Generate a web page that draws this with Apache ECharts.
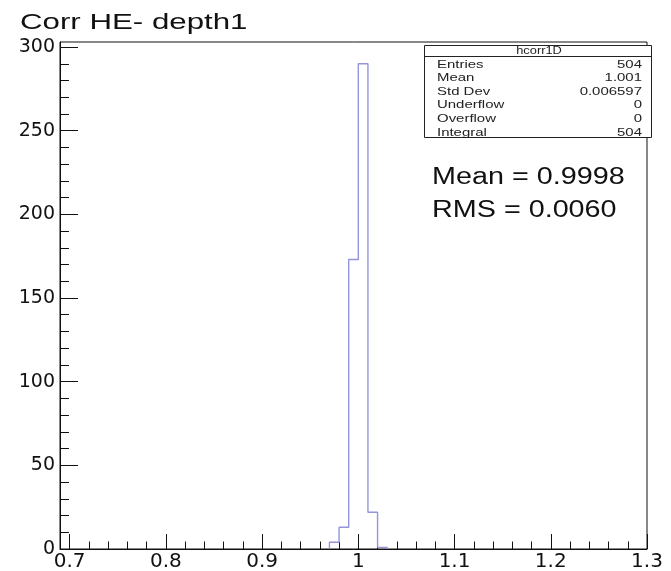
<!DOCTYPE html>
<html><head><meta charset="utf-8">
<script src="https://cdn.jsdelivr.net/npm/echarts@6/dist/echarts.min.js"></script>
<style>html,body{margin:0;padding:0;background:#fff}#c{width:671px;height:571px}</style>
</head><body><div id="c"></div>
<script>
// ---- data ----
const titleText = 'Corr HE- depth1';
const binEdges = [0.97, 0.98, 0.99, 1.00, 1.01, 1.02, 1.03];
const binCounts = [4, 13, 173, 290, 22, 1];
const xMajorTicks = [0.7, 0.8, 0.9, 1.0, 1.1, 1.2, 1.3];
const xMinorTicks = [0.72, 0.74, 0.76, 0.78, 0.82, 0.84, 0.86, 0.88, 0.92, 0.94, 0.96, 0.98,
                     1.02, 1.04, 1.06, 1.08, 1.12, 1.14, 1.16, 1.18, 1.22, 1.24, 1.26, 1.28];
const yMajorTicks = [0, 50, 100, 150, 200, 250, 300];
const yMinorTicks = [10, 20, 30, 40, 60, 70, 80, 90, 110, 120, 130, 140, 160, 170, 180, 190,
                     210, 220, 230, 240, 260, 270, 280, 290];
const statsTitle = 'hcorr1D';
const statsLabels = ['Entries', 'Mean', 'Std Dev', 'Underflow', 'Overflow', 'Integral'];
const statsValues = ['504', '1.001', '0.006597', '0', '0', '504'];
const fitLines = ['Mean = 0.9998', 'RMS = 0.0060'];

// ---- build histogram outline from bins ----
const outline = [[binEdges[0], 0]];
for (let i = 0; i < binCounts.length; i++) {
  outline.push([binEdges[i], binCounts[i]]);
  outline.push([binEdges[i + 1], binCounts[i]]);
}
outline.push([binEdges[binEdges.length - 1], 0]);

const AX = '#111';
const labelFont = 'DejaVu Sans';

const graphics = [
  { type: 'text', x: 20, y: 23, scaleX: 1.42, z: 100,
    style: { text: titleText, font: '22px "Liberation Sans"', fill: '#111', textVerticalAlign: 'middle' } },
  { type: 'rect', z: 100, shape: { x: 424.5, y: 45.5, width: 227, height: 92 },
    style: { fill: '#fff', stroke: '#222', lineWidth: 1 } },
  { type: 'line', z: 101, shape: { x1: 424.5, y1: 56.5, x2: 651.5, y2: 56.5 },
    style: { stroke: '#222', lineWidth: 1 } },
  { type: 'text', z: 102, x: 539, y: 51, scaleX: 1.28,
    style: { text: statsTitle, font: '10px "Liberation Sans"', fill: '#222', textAlign: 'center', textVerticalAlign: 'middle' } }
];
statsLabels.forEach((lab, i) => {
  const yy = 64.5 + i * 13.6;
  graphics.push({ type: 'text', z: 102, x: 437, y: yy, scaleX: 1.3,
    style: { text: lab, font: '11.5px "Liberation Sans"', fill: '#222', textAlign: 'left', textVerticalAlign: 'middle' } });
  graphics.push({ type: 'text', z: 102, x: 642, y: yy, scaleX: 1.3,
    style: { text: statsValues[i], font: '11.5px "Liberation Sans"', fill: '#222', textAlign: 'right', textVerticalAlign: 'middle' } });
});
fitLines.forEach((t, i) => {
  graphics.push({ type: 'text', z: 102, x: 432, y: 178 + i * 33, scaleX: 1.25,
    style: { text: t, font: '23px "Liberation Sans"', fill: '#111', textAlign: 'left', textVerticalAlign: 'middle' } });
});

const chart = echarts.init(document.getElementById('c'), null, { renderer: 'canvas' });
chart.setOption({
  animation: false,
  backgroundColor: '#fff',
  grid: { left: 60, right: 24, top: 42, bottom: 22, show: true, borderColor: AX, borderWidth: 1,
          backgroundColor: 'transparent', containLabel: false, outerBoundsMode: 'none' },
  xAxis: [
    { type: 'value', min: 0.69, max: 1.3, position: 'bottom',
      axisLine: { show: true, onZero: false, lineStyle: { color: AX, width: 1 } },
      axisTick: { show: true, inside: true, length: 15, customValues: xMajorTicks, lineStyle: { color: AX, width: 1 } },
      axisLabel: { show: true, customValues: xMajorTicks, color: '#111', fontFamily: labelFont, fontSize: 20, margin: 3 },
      splitLine: { show: false } },
    { type: 'value', min: 0.69, max: 1.3, position: 'bottom',
      axisLine: { show: false, onZero: false },
      axisTick: { show: true, inside: true, length: 7.5, customValues: xMinorTicks, lineStyle: { color: AX, width: 1 } },
      axisLabel: { show: false },
      splitLine: { show: false } }
  ],
  yAxis: [
    { type: 'value', min: 0, max: 303, position: 'left',
      axisLine: { show: true, onZero: false, lineStyle: { color: AX, width: 1 } },
      axisTick: { show: true, inside: true, length: 18, customValues: yMajorTicks, lineStyle: { color: AX, width: 1 } },
      axisLabel: { show: true, customValues: yMajorTicks, color: '#111', fontFamily: labelFont, fontSize: 19, margin: 5 },
      splitLine: { show: false } },
    { type: 'value', min: 0, max: 303, position: 'left',
      axisLine: { show: false, onZero: false },
      axisTick: { show: true, inside: true, length: 9, customValues: yMinorTicks, lineStyle: { color: AX, width: 1 } },
      axisLabel: { show: false },
      splitLine: { show: false } }
  ],
  series: [
    { type: 'line', xAxisIndex: 0, yAxisIndex: 0, data: outline, symbol: 'none', smooth: false,
      lineStyle: { color: '#9494dc', width: 1.4 }, z: 5, silent: true }
  ],
  graphic: graphics
});
</script>
</body></html>
